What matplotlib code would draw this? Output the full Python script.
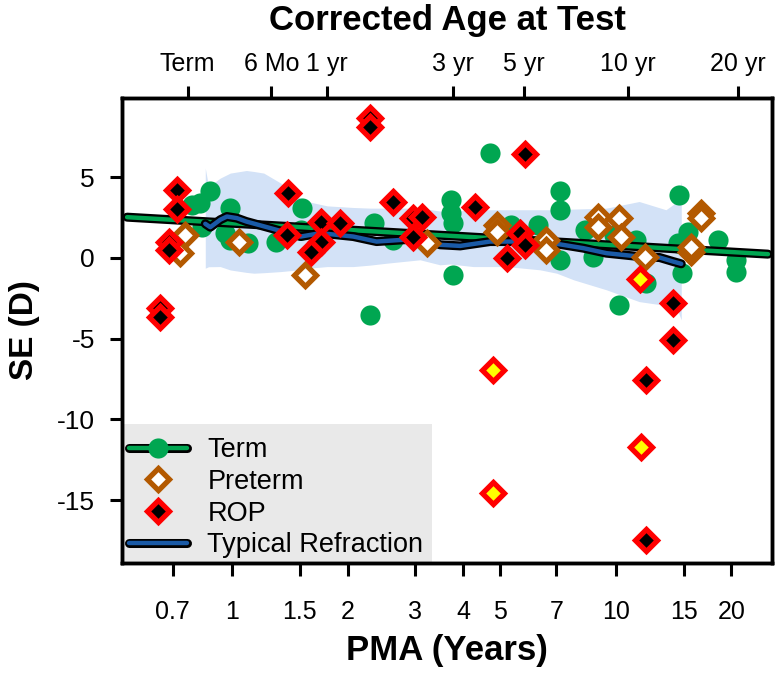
import numpy as np
import matplotlib
matplotlib.use("Agg")
import matplotlib.pyplot as plt
from matplotlib import font_manager
from matplotlib.lines import Line2D
from matplotlib.patches import Rectangle
from matplotlib.ticker import FixedLocator, NullLocator

plt.rcParams['font.family'] = ['Liberation Sans', 'DejaVu Sans']

# narrow face for tick labels, if one is around
narrow_file = None
for f in font_manager.fontManager.ttflist:
    if "Narrow" in f.name and "Liberation" in f.name \
            and f.style == "normal" and f.weight in (400, "normal", "regular"):
        narrow_file = f.fname
        break
if narrow_file is not None:
    tick_font = dict(fontproperties=font_manager.FontProperties(fname=narrow_file, size=20.5))
    tick_size = 20.5
else:
    tick_font = dict(fontfamily=['Liberation Sans', 'DejaVu Sans'])
    tick_size = 18

# term children (green circles)
term_pma = [0.787, 0.827, 0.878, 0.835, 0.961, 0.99, 0.99, 1.10, 1.30, 1.52,
            1.51, 2.34, 2.63, 2.29, 3.73, 3.73, 3.77, 3.77, 4.70, 5.34,
            6.26, 7.14, 7.14, 7.14, 8.32, 8.72, 9.86, 11.3, 12.0, 10.2,
            14.6, 15.4, 14.5, 14.9, 18.5, 20.6, 20.6]
term_se = [3.29, 3.39, 4.11, 1.94, 1.53, 3.08, 1.12, 0.91, 1.01, 3.08,
           1.74, 2.15, 1.12, -3.53, 3.60, 2.77, 2.15, -1.05, 6.49, 2.05,
           2.05, 4.11, 2.98, -0.12, 1.74, 0.08, 1.43, 1.12, -1.57, -2.91,
           3.91, 1.63, 0.91, -0.95, 1.12, -0.12, -0.85]

# preterm children (open brown diamonds)
preterm_pma = [0.756, 0.734, 1.04, 1.55, 3.22, 4.89, 4.89, 6.59, 6.59, 9.0,
               9.0, 10.2, 10.3, 11.9, 16.7, 16.7, 15.7, 15.7]
preterm_se = [1.43, 0.29, 1.01, -1.05, 0.91, 2.05, 1.63, 1.12, 0.50, 2.56,
              1.94, 2.46, 1.32, 0.08, 2.80, 2.45, 0.39, 0.70]

# ROP children (red diamonds, black centre)
rop_pma = [0.720, 0.720, 0.684, 0.684, 0.648, 0.648, 2.29, 2.29, 1.40, 1.71,
           1.71, 1.61, 1.91, 1.39, 2.63, 2.97, 3.12, 2.97, 5.79, 4.29,
           5.63, 5.79, 5.19, 14.1, 14.1, 12.0, 12.0]
rop_se = [4.22, 3.02, 1.01, 0.50, -3.12, -3.68, 8.65, 8.10, 4.01, 2.25,
          1.01, 0.39, 2.15, 1.43, 3.49, 2.46, 2.56, 1.32, 6.45, 3.18,
          1.53, 0.81, -0.02, -2.81, -5.08, -7.56, -17.5]

# ROP children (yellow centre)
rop_y_pma = [4.79, 4.79, 11.65, 11.55]
rop_y_se = [-6.94, -14.57, -11.7, -1.32]

# linear fit for term children
fit_pma = [0.533, 24.9]
fit_se = [2.52, 0.23]

# typical refraction curve
typ_pma = [0.852, 0.878, 0.932, 0.970, 1.03, 1.09, 1.26, 1.51, 1.70, 2.07,
           2.38, 2.80, 3.22, 3.48, 3.93, 4.70, 5.74, 7.01, 8.23, 9.45,
           11.5, 13.0, 14.1, 14.8]
typ_se = [2.11, 1.90, 2.36, 2.56, 2.46, 2.25, 1.84, 1.32, 1.53, 1.32,
          1.01, 1.12, 1.22, 0.81, 0.74, 1.01, 1.01, 0.87, 0.60, 0.29,
          0.08, 0.02, -0.23, -0.37]

# typical refraction range (band)
band_pma = [0.852, 0.869, 0.932, 0.99, 1.09, 1.14, 1.21, 1.34, 1.48, 1.57,
            1.77, 2.07, 2.29, 2.53, 3.09, 3.48, 3.70, 4.25, 5.19, 6.34,
            7.01, 7.76, 9.45, 11.5, 13.5, 14.1, 14.5, 14.8]
band_hi = [5.56, 4.42, 4.94, 5.25, 5.41, 5.35, 5.25, 4.63, 3.80, 3.49,
           3.22, 3.12, 3.08, 3.08, 3.08, 2.90, 2.87, 2.98, 2.98, 2.98,
           2.98, 3.02, 3.08, 3.49, 2.98, 3.30, 3.60, 4.73]
band_lo = [-0.64, -0.55, -0.54, -0.75, -0.90, -0.95, -0.92, -0.85, -0.75, -0.65,
           -0.54, -0.54, -0.45, -0.33, -0.12, -0.43, -0.38, -0.54, -0.54, -0.74,
           -0.95, -1.36, -1.98, -2.71, -2.95, -3.02, -3.30, -3.84]

pma_ticks = [0.7, 1, 1.5, 2, 3, 4, 5, 7, 10, 15, 20]
pma_labels = ["0.7", "1", "1.5", "2", "3", "4", "5", "7", "10", "15", "20"]
age_ticks = [0, 0.5, 1, 3, 5, 10, 20]
age_labels = ["Term", "6 Mo", "1 yr", "3 yr", "5 yr", "10 yr", "20 yr"]
term_offset = 40 / 52.18   # years of PMA at term

green = "#00a651"
brown = "#b35900"
blue = "#1a5aa6"
band_col = "#d3e2f7"

ms_d, mew_d = 11.2, 3.8   # diamond size / edge

fig = plt.figure(figsize=(7.75, 6.75), dpi=100)
ax = fig.add_axes([0.1574, 0.1659, 0.8387, 0.6889])

ax.fill_between(band_pma, band_lo, band_hi, color=band_col, lw=0, zorder=1)

ax.plot(term_pma, term_se, "o", ls="none", ms=14.5, mfc=green, mec=green,
        mew=0, zorder=2)

ax.plot(fit_pma, fit_se, color="black", lw=6.5, solid_capstyle="round",
        zorder=3)
ax.plot(fit_pma, fit_se, color=green, lw=3.2, solid_capstyle="round",
        zorder=3.1)
ax.plot(typ_pma, typ_se, color="black", lw=6.5, solid_capstyle="round",
        solid_joinstyle="round", zorder=3.2)
ax.plot(typ_pma, typ_se, color=blue, lw=3.2, solid_capstyle="round",
        solid_joinstyle="round", zorder=3.3)

ax.plot(preterm_pma, preterm_se, "D", ls="none", ms=ms_d, mfc="white",
        mec=brown, mew=mew_d, zorder=4)
ax.plot(rop_pma, rop_se, "D", ls="none", ms=ms_d, mfc="black",
        mec="red", mew=mew_d, zorder=5)
ax.plot(rop_y_pma, rop_y_se, "D", ls="none", ms=ms_d, mfc="#ffff00",
        mec="red", mew=mew_d, zorder=5)

ax.set_xscale("log")
ax.set_xlim(0.517, 25.5)
ax.set_ylim(-18.9, 9.9)

ax.xaxis.set_major_locator(FixedLocator(pma_ticks))
ax.xaxis.set_minor_locator(NullLocator())
ax.set_yticks([-15, -10, -5, 0, 5])
ax.set_yticklabels(["-15", "-10", "-5", "0", "5"])

ax.tick_params(axis="x", direction="out", length=9, width=2.2,
               pad=15.5 + (20.5 - tick_size) * 0.8, labelsize=tick_size)
ax.set_xticklabels(pma_labels, **tick_font)
ax.tick_params(axis="y", direction="out", length=9, width=2.2, pad=10.5,
               labelsize=19)
for sp in ax.spines.values():
    sp.set_linewidth(2.5)
    sp.set_zorder(10)

ax.set_xlabel("PMA (Years)", fontsize=25, fontweight="bold", labelpad=7)
ax.set_ylabel("SE (D)", fontsize=24, fontweight="bold", labelpad=12)

# top axis: corrected age
ax2 = ax.twiny()
ax2.set_xscale("log")
ax2.set_xlim(ax.get_xlim())
ax2.xaxis.set_major_locator(FixedLocator([a + term_offset for a in age_ticks]))
ax2.xaxis.set_minor_locator(NullLocator())
ax2.tick_params(axis="x", direction="out", length=9, width=2.2, pad=7,
                labelsize=tick_size)
ax2.set_xticklabels(age_labels, **tick_font)
for sp in ax2.spines.values():
    sp.set_linewidth(2.5)
ax2.set_xlabel("Corrected Age at Test", fontsize=25, fontweight="bold",
               labelpad=16)

# grey legend panel in the lower-left corner
ax.add_patch(Rectangle((0, 0), 0.477, 0.299, transform=ax.transAxes,
                       facecolor="#e9e9e9", edgecolor="none", zorder=5.5))

handles = [
    (Line2D([], [], color="black", lw=6.5, solid_capstyle="round"),
     Line2D([], [], color=green, lw=3.2, solid_capstyle="round",
            marker="o", ms=14.5, mfc=green, mec=green, mew=0)),
    Line2D([], [], ls="none", marker="D", ms=ms_d, mfc="white", mec=brown,
           mew=mew_d),
    Line2D([], [], ls="none", marker="D", ms=ms_d, mfc="black", mec="red",
           mew=mew_d),
    (Line2D([], [], color="black", lw=6.5, solid_capstyle="round"),
     Line2D([], [], color=blue, lw=3.2, solid_capstyle="round")),
]
labels = ["Term", "Preterm", "ROP", "Typical Refraction"]
leg = ax.legend(handles, labels, loc="lower left",
                bbox_to_anchor=(-0.002, -0.0074), borderaxespad=0,
                frameon=False, fontsize=19.5, handlelength=2.15,
                handletextpad=0.75, labelspacing=0.21, borderpad=0.3,
                numpoints=1)
leg.set_zorder(6)

fig.savefig("out.png", dpi=100)
